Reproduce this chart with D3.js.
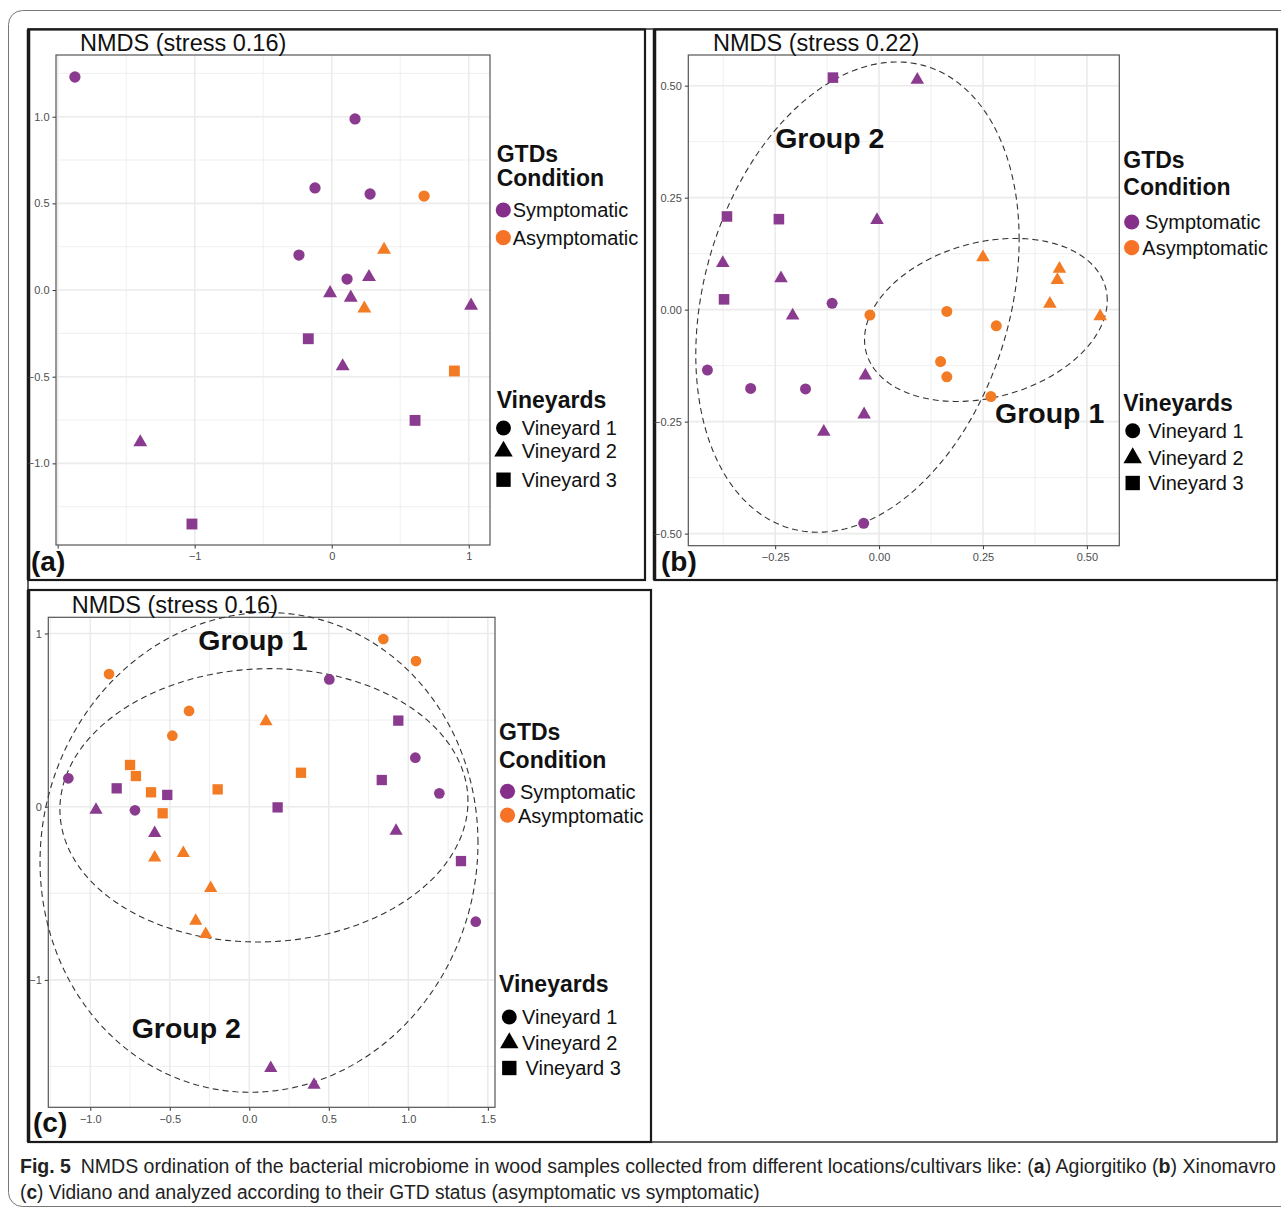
<!DOCTYPE html>
<html>
<head>
<meta charset="utf-8">
<script src="https://cdn.jsdelivr.net/npm/d3@7"></script>
<style>
  html, body { margin: 0; padding: 0; background: #fff; }
  svg { display: block; }
  text { font-family: "Liberation Sans", Arial, Helvetica, sans-serif; }
</style>
</head>
<body>
<svg id="fig" width="1281" height="1213"></svg>
<script>
// ---------- data ----------
const conditions = ["Symptomatic", "Asymptomatic"];
const vineyards = ["Vineyard 1", "Vineyard 2", "Vineyard 3"];

// NMDS scores: [NMDS1, NMDS2, condition (S/A), vineyard (1-3)]
const agiorgitikoPoints = [
  [-1.874, 1.229, "S", 1], [0.170, 0.987, "S", 1], [-0.122, 0.589, "S", 1],
  [0.280, 0.554, "S", 1], [0.674, 0.542, "A", 1], [-0.239, 0.202, "S", 1],
  [0.112, 0.063, "S", 1], [0.272, 0.075, "S", 2], [0.382, 0.232, "A", 2],
  [-0.012, -0.018, "S", 2], [0.139, -0.044, "S", 2], [0.238, -0.107, "A", 2],
  [1.017, -0.090, "S", 2], [-0.171, -0.281, "S", 3], [0.080, -0.440, "S", 2],
  [0.895, -0.467, "A", 3], [0.608, -0.752, "S", 3], [-1.397, -0.878, "S", 2],
  [-1.020, -1.350, "S", 3]
];

const xinomavroPoints = [
  [-0.111, 0.518, "S", 3], [0.092, 0.513, "S", 2], [-0.366, 0.208, "S", 3],
  [-0.241, 0.202, "S", 3], [-0.005, 0.200, "S", 2], [-0.376, 0.104, "S", 2],
  [-0.236, 0.070, "S", 2], [-0.373, 0.023, "S", 3], [-0.113, 0.014, "S", 1],
  [0.250, 0.117, "A", 2], [0.434, 0.091, "A", 2], [0.429, 0.066, "A", 2],
  [0.411, 0.013, "A", 2], [-0.208, -0.013, "S", 2], [-0.022, -0.012, "A", 1],
  [0.163, -0.004, "A", 1], [0.532, -0.015, "A", 2], [0.282, -0.036, "A", 1],
  [-0.413, -0.135, "S", 1], [-0.309, -0.176, "S", 1], [-0.177, -0.177, "S", 1],
  [-0.033, -0.147, "S", 2], [0.148, -0.116, "A", 1], [0.163, -0.150, "A", 1],
  [0.269, -0.194, "A", 1], [-0.036, -0.234, "S", 2], [-0.133, -0.273, "S", 2],
  [-0.037, -0.477, "S", 1]
];

const vidianoPoints = [
  [-0.882, 0.766, "A", 1], [0.843, 0.968, "A", 1], [1.048, 0.841, "A", 1],
  [0.503, 0.735, "S", 1], [-0.379, 0.553, "A", 1], [0.105, 0.492, "A", 2],
  [0.937, 0.497, "S", 3], [-0.484, 0.410, "A", 1], [1.044, 0.283, "S", 1],
  [-0.750, 0.241, "A", 3], [-0.713, 0.177, "A", 3], [0.325, 0.196, "A", 3],
  [-1.138, 0.164, "S", 1], [0.833, 0.154, "S", 3], [-0.834, 0.106, "S", 3],
  [-0.199, 0.100, "A", 3], [-0.618, 0.083, "A", 3], [-0.516, 0.068, "S", 3],
  [1.195, 0.077, "S", 1], [-0.964, -0.018, "S", 2], [-0.719, -0.021, "S", 1],
  [-0.545, -0.038, "A", 3], [0.178, -0.004, "S", 3], [-0.595, -0.153, "S", 2],
  [0.923, -0.140, "S", 2], [-0.595, -0.294, "A", 2], [-0.415, -0.268, "A", 2],
  [1.331, -0.314, "S", 3], [-0.243, -0.470, "A", 2], [-0.337, -0.659, "A", 2],
  [-0.274, -0.736, "A", 2], [1.424, -0.664, "S", 1], [0.135, -1.510, "S", 2],
  [0.407, -1.606, "S", 2]
];

// group ellipses: centre, spread along each axis and correlation
const xinomavroEllipses = [
  { group: "Group 2", cx: -0.052, cy: 0.028, sx: 0.389, sy: 0.525, rho: 0.245 },
  { group: "Group 1", cx: 0.257, cy: -0.023, sx: 0.292, sy: 0.182, rho: 0.24 }
];
const vidianoEllipses = [
  { group: "Group 2", cx: 0.061, cy: -0.264, sx: 1.377, sy: 1.385, rho: 0.04 },
  { group: "Group 1", cx: 0.092, cy: 0.008, sx: 1.283, sy: 0.789, rho: 0.03 }
];

// axis ticks and their labels
const agiorgitikoXTicks = [-2, -1, 0, 1];
const agiorgitikoXLabels = ["", "\u22121", "0", "1"];
const agiorgitikoYTicks = [-1, -0.5, 0, 0.5, 1];
const agiorgitikoYLabels = ["\u22121.0", "\u22120.5", "0.0", "0.5", "1.0"];
const xinomavroXTicks = [-0.25, 0, 0.25, 0.5];
const xinomavroXLabels = ["\u22120.25", "0.00", "0.25", "0.50"];
const xinomavroYTicks = [-0.5, -0.25, 0, 0.25, 0.5];
const xinomavroYLabels = ["\u22120.50", "\u22120.25", "0.00", "0.25", "0.50"];
const vidianoXTicks = [-1, -0.5, 0, 0.5, 1, 1.5];
const vidianoXLabels = ["\u22121.0", "\u22120.5", "0.0", "0.5", "1.0", "1.5"];
const vidianoYTicks = [-1, 0, 1];
const vidianoYLabels = ["\u22121", "0", "1"];

const stressA = 0.16, stressB = 0.22, stressC = 0.16;

// ---------- styling ----------
const COLORS = { S: "#8B3B8F", A: "#F27B24" };
const LEGEND_COLORS = ["#852F8A", "#F57226"];
const GRID = "#ebebeb";

const svg = d3.select("#fig");
svg.append("rect").attr("width", 1281).attr("height", 1213).attr("fill", "#fff");

function shapePath(v, scale = 1) {
  const type = v === 1 ? d3.symbolCircle : v === 2 ? d3.symbolTriangle : d3.symbolSquare;
  const size = (v === 1 ? 100 : v === 2 ? 84 : 118) * scale;
  return d3.symbol().type(type).size(size)();
}

function drawPanel(cfg) {
  const g = svg.append("g");
  const x = d3.scaleLinear().domain(cfg.xDomain).range([cfg.left, cfg.right]);
  const y = d3.scaleLinear().domain(cfg.yDomain).range([cfg.bottom, cfg.top]);

  // minor and major grid
  const grid = g.append("g");
  cfg.xMinor.forEach(v => grid.append("line")
    .attr("x1", x(v)).attr("x2", x(v)).attr("y1", cfg.top).attr("y2", cfg.bottom)
    .attr("stroke", GRID).attr("stroke-width", 0.8));
  cfg.yMinor.forEach(v => grid.append("line")
    .attr("y1", y(v)).attr("y2", y(v)).attr("x1", cfg.left).attr("x2", cfg.right)
    .attr("stroke", GRID).attr("stroke-width", 0.8));
  cfg.xTicks.forEach(v => grid.append("line")
    .attr("x1", x(v)).attr("x2", x(v)).attr("y1", cfg.top).attr("y2", cfg.bottom)
    .attr("stroke", GRID).attr("stroke-width", 1.6));
  cfg.yTicks.forEach(v => grid.append("line")
    .attr("y1", y(v)).attr("y2", y(v)).attr("x1", cfg.left).attr("x2", cfg.right)
    .attr("stroke", GRID).attr("stroke-width", 1.6));

  // axes
  const xAxis = d3.axisBottom(x).tickValues(cfg.xTicks).tickSize(3.5).tickPadding(4)
    .tickFormat((d, i) => cfg.xLabels[i]);
  const yAxis = d3.axisLeft(y).tickValues(cfg.yTicks).tickSize(3.5).tickPadding(3)
    .tickFormat((d, i) => cfg.yLabels[i]);
  const gx = g.append("g").attr("transform", `translate(0,${cfg.bottom})`).call(xAxis);
  const gy = g.append("g").attr("transform", `translate(${cfg.left},0)`).call(yAxis);
  [gx, gy].forEach(a => {
    a.select(".domain").remove();
    a.selectAll(".tick line").attr("stroke", "#333").attr("stroke-width", 1);
    a.selectAll(".tick text").attr("fill", "#4d4d4d").attr("font-size", 11)
      .attr("font-family", "Liberation Sans, Arial, sans-serif");
  });

  // panel border
  g.append("rect").attr("x", cfg.left).attr("y", cfg.top)
    .attr("width", cfg.right - cfg.left).attr("height", cfg.bottom - cfg.top)
    .attr("fill", "none").attr("stroke", "#555").attr("stroke-width", 1.2);

  // ellipses
  const line = d3.line().curve(d3.curveLinearClosed);
  (cfg.ellipses || []).forEach(e => {
    const pts = d3.range(0, 2 * Math.PI, Math.PI / 120).map(t => {
      const ex = e.cx + e.sx * Math.cos(t);
      const ey = e.cy + e.sy * (e.rho * Math.cos(t) + Math.sqrt(1 - e.rho * e.rho) * Math.sin(t));
      return [x(ex), y(ey)];
    });
    g.append("path").attr("d", line(pts)).attr("fill", "none")
      .attr("stroke", "#333").attr("stroke-width", 1.1).attr("stroke-dasharray", "6,4");
  });

  // points
  g.append("g").selectAll("path").data(cfg.points).join("path")
    .attr("d", d => shapePath(d[3], cfg.symbolScale))
    .attr("transform", d => `translate(${x(d[0])},${y(d[1])})`)
    .attr("fill", d => COLORS[d[2]]);

  // group labels
  (cfg.groupLabels || []).forEach(l => {
    g.append("text").attr("x", x(l.x)).attr("y", y(l.y))
      .attr("font-size", 28.5).attr("font-weight", "bold").attr("fill", "#111")
      .text(l.text);
  });

  // title
  g.append("text").attr("x", cfg.titleX).attr("y", cfg.titleY)
    .attr("font-size", 23.5).attr("fill", "#111").text(`NMDS (stress ${cfg.stress.toFixed(2)})`);

  // panel tag
  g.append("text").attr("x", cfg.tagX).attr("y", cfg.tagY)
    .attr("font-size", 28).attr("font-weight", "bold").attr("fill", "#111").text(cfg.tag);

  // legend
  const L = cfg.legend;
  const lg = g.append("g");
  lg.append("text").attr("x", L.x).attr("y", L.gtdsY).attr("font-size", 23)
    .attr("font-weight", "bold").attr("fill", "#111").text("GTDs");
  lg.append("text").attr("x", L.x).attr("y", L.gtdsY + L.titleGap).attr("font-size", 23)
    .attr("font-weight", "bold").attr("fill", "#111").text("Condition");
  conditions.forEach((c, i) => {
    lg.append("circle").attr("cx", L.condKeyX).attr("cy", L.condY[i] - 7.3).attr("r", 7.6)
      .attr("fill", LEGEND_COLORS[i]);
    lg.append("text").attr("x", L.condTextX[i]).attr("y", L.condY[i]).attr("font-size", 20)
      .attr("fill", "#111").text(c);
  });
  lg.append("text").attr("x", L.x).attr("y", L.vineTitleY).attr("font-size", 23)
    .attr("font-weight", "bold").attr("fill", "#111").text("Vineyards");
  vineyards.forEach((v, i) => {
    lg.append("path").attr("d", shapePath(i + 1, 1.75))
      .attr("transform", `translate(${L.vineKeyX},${L.vineY[i] - 7})`).attr("fill", "#000");
    lg.append("text").attr("x", L.vineTextX[i]).attr("y", L.vineY[i]).attr("font-size", 20)
      .attr("fill", "#111").text(v);
  });
}

// ---------- frames ----------
svg.append("rect").attr("x", 8.5).attr("y", 10.5).attr("width", 1300).attr("height", 1196)
  .attr("rx", 14).attr("fill", "none").attr("stroke", "#777").attr("stroke-width", 1);
svg.append("rect").attr("x", 28).attr("y", 29).attr("width", 1249).attr("height", 1113)
  .attr("fill", "none").attr("stroke", "#333").attr("stroke-width", 1.5);
[[28.5, 29.5, 616.5, 550.5], [654.5, 29.5, 622.5, 550.5], [28.5, 590, 622.5, 552]].forEach(r => {
  svg.append("rect").attr("x", r[0]).attr("y", r[1]).attr("width", r[2]).attr("height", r[3])
    .attr("fill", "none").attr("stroke", "#1a1a1a").attr("stroke-width", 2.2);
  svg.append("line").attr("x1", r[0]).attr("x2", r[0]).attr("y1", r[1]).attr("y2", r[1] + r[3])
    .attr("stroke", "#1a1a1a").attr("stroke-width", 3.5);
});

// ---------- panels ----------
drawPanel({
  points: agiorgitikoPoints, stress: stressA, tag: "(a)", tagX: 31, tagY: 571,
  left: 56, right: 490, top: 55, bottom: 545,
  xDomain: [-2.012, 1.155], yDomain: [-1.471, 1.356],
  xTicks: agiorgitikoXTicks, xLabels: agiorgitikoXLabels,
  yTicks: agiorgitikoYTicks, yLabels: agiorgitikoYLabels,
  xMinor: [-1.5, -0.5, 0.5], yMinor: [-1.25, -0.75, -0.25, 0.25, 0.75, 1.25],
  titleX: 80, titleY: 51, symbolScale: 1,
  legend: { x: 496.7, gtdsY: 161.7, titleGap: 24.5, condKeyX: 503.3, condY: [217.3, 245],
    condTextX: [512.7, 512.7], vineTitleY: 408.3, vineKeyX: 503.5, vineY: [435, 458.3, 486.7],
    vineTextX: [521.7, 521.7, 521.7] }
});

drawPanel({
  points: xinomavroPoints, stress: stressB, tag: "(b)", tagX: 661, tagY: 571,
  left: 688.3, right: 1119.3, top: 55, bottom: 545.7,
  xDomain: [-0.459, 0.578], yDomain: [-0.527, 0.5685],
  xTicks: xinomavroXTicks, xLabels: xinomavroXLabels,
  yTicks: xinomavroYTicks, yLabels: xinomavroYLabels,
  xMinor: [-0.375, -0.125, 0.125, 0.375], yMinor: [-0.375, -0.125, 0.125, 0.375],
  titleX: 713, titleY: 50.7, symbolScale: 0.95,
  ellipses: xinomavroEllipses,
  groupLabels: [{ text: "Group 2", x: -0.250, y: 0.360 }, { text: "Group 1", x: 0.279, y: -0.2536 }],
  legend: { x: 1123.3, gtdsY: 168.3, titleGap: 26.7, condKeyX: 1131.7, condY: [229.3, 255],
    condTextX: [1145, 1142.3], vineTitleY: 410.7, vineKeyX: 1132.7, vineY: [437.7, 465, 490],
    vineTextX: [1148.3, 1148.3, 1148.3] }
});

drawPanel({
  points: vidianoPoints, stress: stressC, tag: "(c)", tagX: 33, tagY: 1132,
  left: 48.3, right: 495, top: 617.3, bottom: 1107.3,
  xDomain: [-1.264, 1.545], yDomain: [-1.7356, 1.0935],
  xTicks: vidianoXTicks, xLabels: vidianoXLabels,
  yTicks: vidianoYTicks, yLabels: vidianoYLabels,
  xMinor: [-1.25, -0.75, -0.25, 0.25, 0.75, 1.25], yMinor: [-1.5, -0.5, 0.5],
  titleX: 71.7, titleY: 612.7, symbolScale: 0.9,
  ellipses: vidianoEllipses,
  groupLabels: [{ text: "Group 1", x: -0.321, y: 0.905 }, { text: "Group 2", x: -0.740, y: -1.337 }],
  legend: { x: 499, gtdsY: 740.4, titleGap: 27.5, condKeyX: 507.5, condY: [798.6, 822.5],
    condTextX: [520, 518], vineTitleY: 992, vineKeyX: 509.3, vineY: [1024, 1050, 1075],
    vineTextX: [522, 522, 525.5] }
});

// ---------- caption (condensed face, each line set to its measure) ----------
const cap = svg.append("g").attr("font-family", "'Liberation Sans Narrow', 'Liberation Sans', sans-serif")
  .attr("font-size", 20).attr("fill", "#222");
function captionLine(y, width, parts) {
  const holder = cap.append("g");
  const t = holder.append("text").attr("x", 0).attr("y", 0);
  parts.forEach(p => t.append("tspan").attr("font-weight", p[1] ? "bold" : null).text(p[0]));
  const w = t.node().getComputedTextLength();
  holder.attr("transform", `translate(20,${y}) scale(${width / w},1)`);
}
captionLine(1173, 1257, [
  ["Fig. 5", true],
  ["\u2002NMDS ordination of the bacterial microbiome in wood samples collected from different locations/cultivars like: (", false],
  ["a", true], [") Agiorgitiko (", false], ["b", true], [") Xinomavro", false]
]);
captionLine(1199, 740, [
  ["(", false], ["c", true],
  [") Vidiano and analyzed according to their GTD status (asymptomatic vs symptomatic)", false]
]);
</script>
</body>
</html>
